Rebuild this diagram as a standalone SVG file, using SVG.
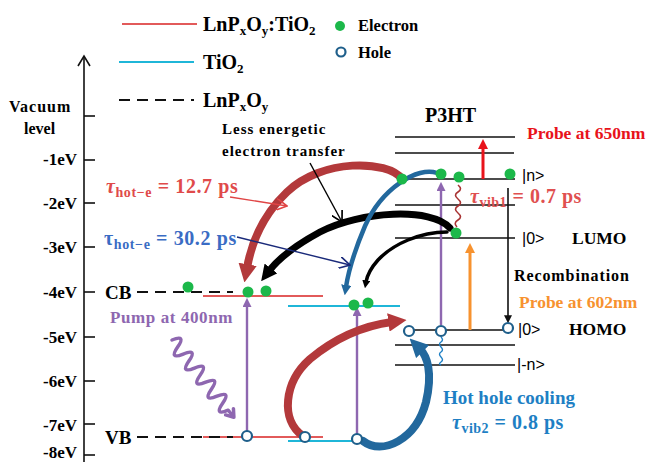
<svg xmlns="http://www.w3.org/2000/svg" width="647" height="462" viewBox="0 0 647 462">
<style>
.t{font-family:"Liberation Serif","Times New Roman",serif;font-weight:bold}
.s{font-family:"Liberation Sans",Arial,sans-serif}
.ax{font-size:17px;text-anchor:end}
.lv{stroke:#111;stroke-width:1.6}
.e{fill:#1cb84a}
.h{fill:#fff;stroke:#1f5f8b;stroke-width:2.2}
</style>
<defs>
<marker id="ab" viewBox="0 0 10 10" refX="1" refY="5" markerWidth="8" markerHeight="8" markerUnits="userSpaceOnUse" orient="auto"><path d="M0,0 L10,5 L0,10 z" fill="#111"/></marker>
<marker id="ap" viewBox="0 0 10 10" refX="1" refY="5" markerWidth="9" markerHeight="9" markerUnits="userSpaceOnUse" orient="auto"><path d="M0,0 L10,5 L0,10 z" fill="#8e67b0"/></marker>
<marker id="ar" viewBox="0 0 10 10" refX="1" refY="5" markerWidth="10" markerHeight="10" markerUnits="userSpaceOnUse" orient="auto"><path d="M0,0 L10,5 L0,10 z" fill="#e8131b"/></marker>
<marker id="ao" viewBox="0 0 10 10" refX="1" refY="5" markerWidth="10" markerHeight="10" markerUnits="userSpaceOnUse" orient="auto"><path d="M0,0 L10,5 L0,10 z" fill="#f7922f"/></marker>
<marker id="aR" viewBox="0 0 10 10" refX="2" refY="5" markerWidth="2.3" markerHeight="2.3" orient="auto"><path d="M0,0 L10,5 L0,10 z" fill="#b3393b"/></marker>
<marker id="aB" viewBox="0 0 10 10" refX="2" refY="5" markerWidth="2.3" markerHeight="2.3" orient="auto"><path d="M0,0 L10,5 L0,10 z" fill="#22689d"/></marker>
<marker id="aK" viewBox="0 0 10 10" refX="2" refY="5" markerWidth="2.3" markerHeight="2.3" orient="auto"><path d="M0,0 L10,5 L0,10 z" fill="#000"/></marker>
<marker id="oR" viewBox="0 0 10 10" refX="9" refY="5" markerWidth="12" markerHeight="12" markerUnits="userSpaceOnUse" orient="auto"><path d="M0,0 L9,5 L0,10" fill="none" stroke="#e04545" stroke-width="1.4"/></marker>
<marker id="oN" viewBox="0 0 10 10" refX="9" refY="5" markerWidth="12" markerHeight="12" markerUnits="userSpaceOnUse" orient="auto"><path d="M0,0 L9,5 L0,10" fill="none" stroke="#1a2a7a" stroke-width="1.4"/></marker>
<marker id="oK" viewBox="0 0 10 10" refX="9" refY="5" markerWidth="12" markerHeight="12" markerUnits="userSpaceOnUse" orient="auto"><path d="M0,0 L9,5 L0,10" fill="none" stroke="#000" stroke-width="1.4"/></marker>
</defs>

<!-- Legend -->
<g id="legend">
<line x1="122" y1="24" x2="197" y2="24" stroke="#e25a5a" stroke-width="1.8"/>
<text class="t" x="203" y="31" font-size="20">LnP<tspan font-size="13" dy="4">x</tspan><tspan dy="-4">O</tspan><tspan font-size="13" dy="4">y</tspan><tspan dy="-4">:TiO</tspan><tspan font-size="13" dy="4">2</tspan></text>
<line x1="119" y1="62" x2="194" y2="62" stroke="#1fb6d8" stroke-width="1.8"/>
<text class="t" x="203" y="69" font-size="20">TiO<tspan font-size="13" dy="4">2</tspan></text>
<line x1="119" y1="100" x2="194" y2="100" stroke="#111" stroke-width="1.8" stroke-dasharray="11,7"/>
<text class="t" x="203" y="107" font-size="20">LnP<tspan font-size="13" dy="4">x</tspan><tspan dy="-4">O</tspan><tspan font-size="13" dy="4">y</tspan></text>
<circle class="e" cx="340" cy="26" r="5"/>
<text class="t" x="358" y="31" font-size="16.5">Electron</text>
<circle class="h" cx="341" cy="52" r="4.5"/>
<text class="t" x="358" y="58" font-size="16.5">Hole</text>
</g>

<!-- Axis -->
<g id="axis">
<line x1="84" y1="57" x2="84" y2="462" stroke="#111" stroke-width="1.6"/>
<path d="M78,66 L84,56 L90,66" fill="none" stroke="#111" stroke-width="1.6"/>
<g stroke="#111" stroke-width="1.6">
<line x1="84" y1="116" x2="95" y2="116"/>
<line x1="84" y1="160" x2="95" y2="160"/>
<line x1="84" y1="203" x2="95" y2="203"/>
<line x1="84" y1="247" x2="95" y2="247"/>
<line x1="84" y1="292" x2="95" y2="292"/>
<line x1="84" y1="337" x2="95" y2="337"/>
<line x1="84" y1="381" x2="95" y2="381"/>
<line x1="84" y1="424" x2="95" y2="424"/>
<line x1="84" y1="455" x2="95" y2="455"/>
</g>
<text class="t" x="9" y="112" font-size="16" letter-spacing="1">Vacuum</text>
<text class="t" x="24" y="134" font-size="16">level</text>
<text class="t ax" x="77" y="165">-1eV</text>
<text class="t ax" x="77" y="209">-2eV</text>
<text class="t ax" x="77" y="253">-3eV</text>
<text class="t ax" x="77" y="298">-4eV</text>
<text class="t ax" x="77" y="343">-5eV</text>
<text class="t ax" x="77" y="387">-6eV</text>
<text class="t ax" x="77" y="431">-7eV</text>
<text class="t ax" x="77" y="458" font-size="16">-8eV</text>
</g>

<!-- Oxide levels -->
<g id="ln-ti-o2">
<line x1="203" y1="296" x2="323" y2="296" stroke="#e25a5a" stroke-width="1.8"/>
<line x1="203" y1="437" x2="323" y2="437" stroke="#e25a5a" stroke-width="1.8"/>
</g>
<g id="tio2">
<line x1="288" y1="306" x2="400" y2="306" stroke="#1fb6d8" stroke-width="1.8"/>
<line x1="288" y1="441" x2="365" y2="441" stroke="#1fb6d8" stroke-width="1.8"/>
</g>
<g id="lnpxoy">
<text class="t" x="105" y="299" font-size="19">CB</text>
<line x1="137" y1="292" x2="233" y2="292" stroke="#111" stroke-width="1.8" stroke-dasharray="11,7"/>
<text class="t" x="105" y="444" font-size="19">VB</text>
<line x1="137" y1="437" x2="233" y2="437" stroke="#111" stroke-width="1.8" stroke-dasharray="11,7"/>
</g>

<!-- P3HT levels -->
<g id="p3ht">
<text class="t" x="425" y="122" font-size="20">P3HT</text>
<line class="lv" x1="395" y1="137" x2="515" y2="137"/>
<line class="lv" x1="395" y1="153" x2="514" y2="153"/>
<line class="lv" x1="400" y1="179" x2="515" y2="179"/>
<line class="lv" x1="395" y1="205" x2="515" y2="205"/>
<line class="lv" x1="395" y1="238" x2="515" y2="238"/>
<line class="lv" x1="404" y1="330" x2="508" y2="330"/>
<line class="lv" x1="395" y1="345" x2="515" y2="345"/>
<line class="lv" x1="395" y1="365" x2="515" y2="365"/>
<text class="s" x="522" y="181" font-size="16">|n&gt;</text>
<text class="s" x="522" y="244" font-size="16">|0&gt;</text>
<text class="t" x="572" y="244" font-size="17.5">LUMO</text>
<text class="s" x="518" y="335" font-size="16">|0&gt;</text>
<text class="t" x="569" y="335" font-size="17.5">HOMO</text>
<text class="s" x="517" y="370" font-size="16">|-n&gt;</text>
</g>

<!-- connectors -->
<g id="connectors" fill="none">
<!-- pump transitions -->
<line x1="247" y1="432" x2="247" y2="306" stroke="#8e67b0" stroke-width="2.4" marker-end="url(#ap)"/>
<line x1="357" y1="434" x2="357" y2="315" stroke="#8e67b0" stroke-width="2.4" marker-end="url(#ap)"/>
<line x1="441" y1="325" x2="441" y2="190" stroke="#8e67b0" stroke-width="2.4" marker-end="url(#ap)"/>
<g transform="translate(172,340) rotate(51.3)" stroke="#8e67b0" stroke-width="3.5" stroke-linecap="round" stroke-linejoin="round">
<path d="M0,0 q4.5,-15 9,0 t9,0 t9,0 t9,0 t9,0 t9,0 t9,0 t9,0 t9,0 t9,0 l8,0"/>
<path d="M92,-5 L99,0 L92,5"/>
</g>
<!-- probes -->
<line x1="483" y1="179" x2="483" y2="148" stroke="#e8131b" stroke-width="3" marker-end="url(#ar)"/>
<line x1="470" y1="330" x2="470" y2="252" stroke="#f7922f" stroke-width="3" marker-end="url(#ao)"/>
<!-- recombination -->
<line x1="508" y1="188" x2="508" y2="316" stroke="#111" stroke-width="1.6" marker-end="url(#ab)"/>
<!-- vibrational relaxation -->
<path d="M458,185 q5,4 0,7 t0,7 t0,7 t0,7 t0,7 t-1,7" stroke="#a83232" stroke-width="1.6"/>
<path d="M441,337 q3,3 0,5 t0,5 t0,5 t0,5 t0,5 t0,3" stroke="#1e7fc4" stroke-width="1.4"/>
<!-- big transfer arrows -->
<path d="M402,179 C388,160 322,158 287,192 C264,214 252,240 247,268" stroke="#b3393b" stroke-width="8" stroke-linecap="round" marker-end="url(#aR)"/>
<path d="M450,228 C432,207 360,211 320,232 C296,245 279,258 269,271" stroke="#000" stroke-width="7" stroke-linecap="round" marker-end="url(#aK)"/>
<path d="M437,173 C418,166 382,188 365,226 C354,252 348,274 346,287" stroke="#22689d" stroke-width="4.5" stroke-linecap="round" marker-end="url(#aB)"/>
<path d="M447,232 C420,232 393,244 378,260 C370,269 367,276 366,282" stroke="#000" stroke-width="3.5" stroke-linecap="round" marker-end="url(#aK)"/>
<path d="M303,436 C280,420 284,382 310,359 C334,339 362,326 392,322" stroke="#b3393b" stroke-width="8" stroke-linecap="round" marker-end="url(#aR)"/>
<path d="M363,441 C382,456 416,440 426,402 C433,372 427,356 420,349" stroke="#22689d" stroke-width="8" stroke-linecap="round" marker-end="url(#aB)"/>
<!-- pointer arrows -->
<path d="M230,197 L287,206" stroke="#e04545" stroke-width="1.4" marker-end="url(#oR)"/>
<path d="M237,237 L350,265" stroke="#1a2a7a" stroke-width="1.4" marker-end="url(#oN)"/>
<path d="M310,163 L342,222" stroke="#000" stroke-width="1.4" marker-end="url(#oK)"/>
</g>

<!-- carriers -->
<g id="electrons">
<circle class="e" cx="188" cy="287" r="5.5"/>
<circle class="e" cx="248" cy="292" r="5.5"/>
<circle class="e" cx="266" cy="291" r="5.5"/>
<circle class="e" cx="354" cy="305" r="5.5"/>
<circle class="e" cx="368" cy="303" r="5.5"/>
<circle class="e" cx="402" cy="179" r="5.5"/>
<circle class="e" cx="441" cy="174" r="5.5"/>
<circle class="e" cx="459" cy="177" r="5.5"/>
<circle class="e" cx="510" cy="174" r="5.5"/>
<circle class="e" cx="456" cy="233" r="5.5"/>
</g>
<g id="holes">
<circle class="h" cx="247" cy="436" r="5"/>
<circle class="h" cx="305" cy="437" r="5"/>
<circle class="h" cx="357" cy="439" r="5"/>
<circle class="h" cx="409" cy="331" r="5"/>
<circle class="h" cx="441" cy="331" r="5"/>
<circle class="h" cx="508" cy="328" r="5"/>
</g>

<!-- labels -->
<g id="labels">
<text class="t" x="222" y="134" font-size="15" letter-spacing="1">Less energetic</text>
<text class="t" x="222" y="156" font-size="15" letter-spacing="1">electron transfer</text>
<text class="t" x="106" y="193" font-size="20" fill="#e04a4a" letter-spacing="0.6"><tspan font-style="italic">τ</tspan><tspan font-size="14" dy="4">hot−e</tspan><tspan dy="-4"> = 12.7 ps</tspan></text>
<text class="t" x="104" y="245" font-size="20" fill="#3a6cc4" letter-spacing="0.6">τ<tspan font-size="14" dy="4">hot−e</tspan><tspan dy="-4"> = 30.2 ps</tspan></text>
<text class="t" x="110" y="323" font-size="17" fill="#8e67b0" letter-spacing="0.6">Pump at 400nm</text>
<text class="t" x="527" y="139" font-size="17.5" fill="#e8131b">Probe at 650nm</text>
<text class="t" x="470" y="203" font-size="20" fill="#e05050" letter-spacing="0.5"><tspan font-style="italic">τ</tspan><tspan font-size="14" dy="4">vib1</tspan><tspan dy="-4"> = 0.7 ps</tspan></text>
<text class="t" x="514" y="281" font-size="16" letter-spacing="0.9">Recombination</text>
<text class="t" x="519" y="308" font-size="17.5" fill="#f7922f">Probe at 602nm</text>
<text class="t" x="443" y="404" font-size="19" fill="#1e7fc4">Hot hole cooling</text>
<text class="t" x="452" y="429" font-size="20" fill="#1e7fc4" letter-spacing="0.5"><tspan font-style="italic">τ</tspan><tspan font-size="14" dy="4">vib2</tspan><tspan dy="-4"> = 0.8 ps</tspan></text>
</g>
</svg>
